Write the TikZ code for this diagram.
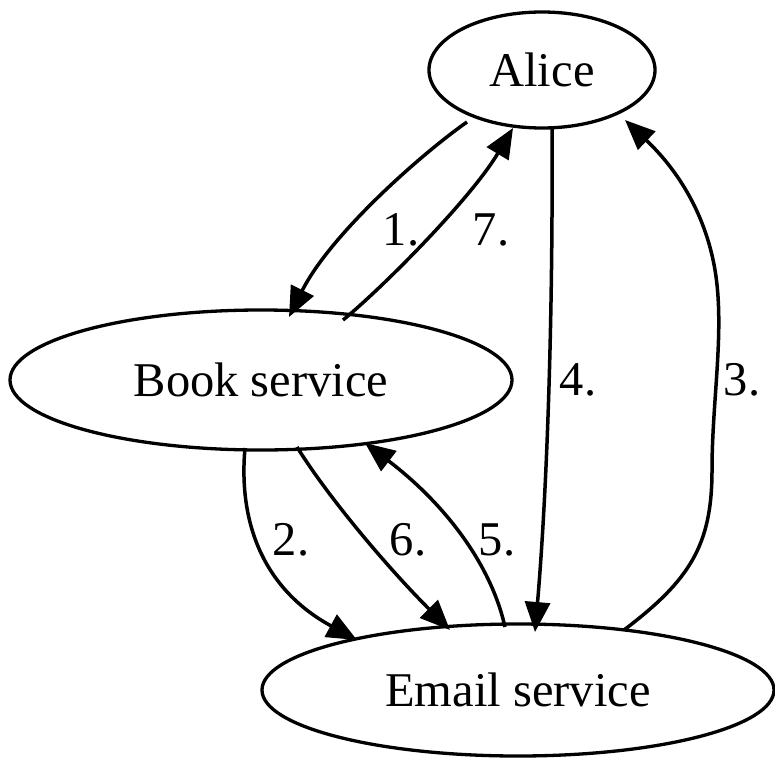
\documentclass[tikz,border=0pt]{standalone}
\usepackage{fontspec}
\setmainfont{Liberation Serif}
\usetikzlibrary{shapes.geometric,arrows.meta}
\begin{document}
\begin{tikzpicture}[x=1pt,y=-1pt,
  state/.style={draw,ellipse,line width=3.3pt,inner sep=0pt,font=\fontsize{48.5}{52}\selectfont},
  edge/.style={line width=3.5pt,-{Triangle[length=30pt,width=25pt]}},
  lbl/.style={inner sep=0pt,font=\fontsize{48.5}{52}\selectfont}]
\useasboundingbox (0,0) rectangle (775,757);
\node[state,minimum width=226pt,minimum height=116pt] (alice) at (542,70) {Alice};
\node[state,minimum width=502pt,minimum height=140pt] (book) at (261,380) {Book service};
\node[state,minimum width=512pt,minimum height=132pt] (email) at (518,690) {Email service};
% edge 1: Alice -> Book
\coordinate (a1) at (467,122);
\coordinate (b1) at (289,317);
\draw[edge] (a1) .. controls (420,155) and (330,235) .. (b1);
\node[lbl] (l1) at (401,230) {1.};
% edge 7: Book -> Alice
\coordinate (b7) at (343,320);
\coordinate (a7) at (513,128);
\draw[edge] (b7) .. controls (380,290) and (470,200) .. (a7);
\node[lbl] (l7) at (491,230) {7.};
% edge 4: Alice -> Email
\coordinate (a4) at (552,129);
\coordinate (e4) at (535,632);
\draw[edge] (a4) .. controls (553,300) and (548,480) .. (e4);
\node[lbl] (l4) at (578,380) {4.};
% edge 3: Email -> Alice
\coordinate (e3) at (624,630);
\coordinate (a3) at (625,120);
\draw[edge] (e3) .. controls (690,580) and (712,545) .. (712,470)
   .. controls (712,400) and (725,330) .. (715,270)
   .. controls (703,200) and (665,158) .. (a3);
\node[lbl] (l3) at (742,380) {3.};
% edge 2: Book -> Email
\coordinate (b2) at (245,448);
\coordinate (e2) at (357,640);
\draw[edge] (b2) .. controls (238,525) and (265,590) .. (e2);
\node[lbl] (l2) at (291,540) {2.};
% edge 6: Book -> Email
\coordinate (b6) at (297,447);
\coordinate (e6) at (450,630);
\draw[edge] (b6) .. controls (330,500) and (390,570) .. (e6);
\node[lbl] (l6) at (408,540) {6.};
% edge 5: Email -> Book
\coordinate (e5) at (505,627);
\coordinate (b5) at (365,443);
\draw[edge] (e5) .. controls (490,560) and (440,500) .. (b5);
\node[lbl] (l5) at (497,540) {5.};
\end{tikzpicture}
\end{document}
